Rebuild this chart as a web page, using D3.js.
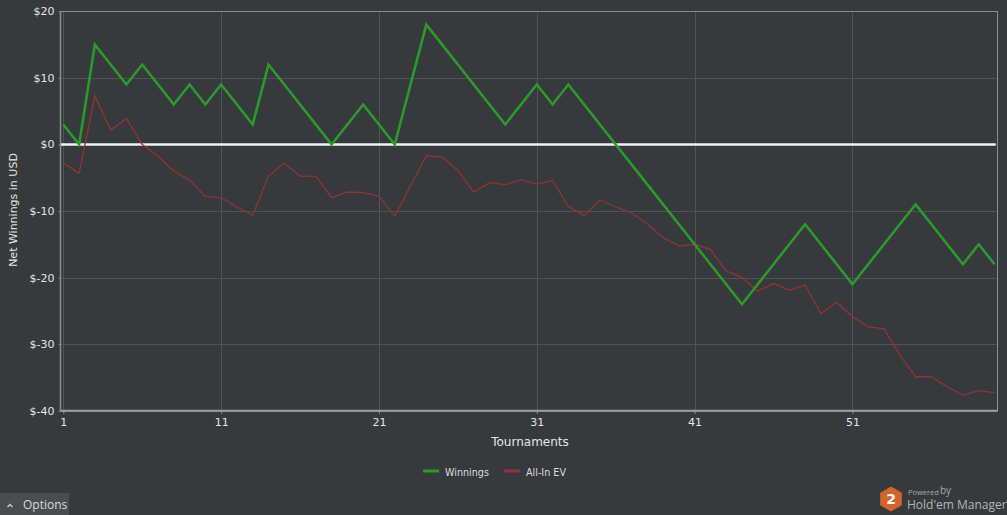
<!DOCTYPE html>
<html>
<head>
<meta charset="utf-8">
<script src="https://cdn.jsdelivr.net/npm/d3@7"></script>
<style>
html,body{margin:0;padding:0;background:#373a3d;overflow:hidden;}
svg{display:block;}
</style>
</head>
<body>
<svg id="chart" width="1007" height="515"></svg>
<script>
const tournaments = d3.range(1, 61);
const winnings = [3,0,15,12,9,12,9,6,9,6,9,6,3,12,9,6,3,0,3,6,3,0,9,18,15,12,9,6,3,6,9,6,9,6,3,0,-3,-6,-9,-12,-15,-18,-21,-24,-21,-18,-15,-12,-15,-18,-21,-18,-15,-12,-9,-12,-15,-18,-15,-18];
const allInEV = [-2.75,-4.35,7.25,2.15,3.9,0,-1.75,-4,-5.4,-7.8,-8,-9.4,-10.65,-4.75,-2.8,-4.75,-4.8,-8,-7.15,-7.25,-7.75,-10.8,-6.2,-1.7,-1.9,-3.9,-7.15,-5.75,-6.05,-5.3,-5.95,-5.45,-9.3,-10.7,-8.3,-9.4,-10.3,-11.9,-14,-15.25,-15,-15.8,-19,-20,-22,-20.9,-21.9,-21.15,-25.4,-23.7,-25.9,-27.4,-27.65,-31.65,-34.9,-34.9,-36.4,-37.7,-37,-37.3];
const xTicks = [1,11,21,31,41,51];
const yTicks = [20,10,0,-10,-20,-30,-40];
const seriesNames = ["Winnings","All-In EV"];
const seriesColors = ["#2b9a2b","#8e3434"];

(function(){
const svg = d3.select("#chart");
const bg = "#373a3d";
svg.append("rect").attr("width",1007).attr("height",515).attr("fill",bg);

const x = d3.scaleLinear().domain([1,60]).range([63.3,994.5]);
const y = d3.scaleLinear().domain([-40,20]).range([410.7,11.3]);
const pLeft = 60.5, pRight = 997.5, pTop = 11.3, pBottom = 410.7;

const g = svg.append("g");
g.selectAll(".hg").data(yTicks).join("line")
  .attr("x1",pLeft).attr("x2",pRight)
  .attr("y1",d=>Math.round(y(d))+0.5).attr("y2",d=>Math.round(y(d))+0.5)
  .attr("stroke","#505356").attr("stroke-width",1);
g.selectAll(".vg").data(xTicks).join("line")
  .attr("x1",d=>Math.round(x(d))+0.5).attr("x2",d=>Math.round(x(d))+0.5)
  .attr("y1",pTop).attr("y2",pBottom)
  .attr("stroke","#505356").attr("stroke-width",1);

svg.append("rect").attr("x",pLeft).attr("y",pTop+0.2).attr("width",pRight-pLeft).attr("height",pBottom-pTop)
  .attr("fill","none").attr("stroke","#8a8c8e").attr("stroke-width",1);
svg.append("line").attr("x1",pLeft).attr("x2",pRight).attr("y1",pBottom).attr("y2",pBottom)
  .attr("stroke","#9a9c9e").attr("stroke-width",2);
svg.append("line").attr("x1",pLeft).attr("x2",pLeft).attr("y1",pTop).attr("y2",pBottom)
  .attr("stroke","#8a8c8e").attr("stroke-width",1.5);

const yAxis = d3.axisLeft(y).tickValues(yTicks).tickSize(2).tickPadding(4)
  .tickFormat(d=> d<0 ? "$-"+Math.abs(d) : "$"+d);
const ya = svg.append("g").attr("transform",`translate(${pLeft},0)`).call(yAxis);
ya.select(".domain").remove();
ya.selectAll("line").attr("stroke","#8a8c8e");
ya.selectAll("text").attr("fill","#e4e4e4").style("font-family","DejaVu Sans, Verdana, sans-serif").style("font-size","11px");

const xAxis = d3.axisBottom(x).tickValues(xTicks).tickSize(3).tickPadding(5).tickFormat(d3.format("d"));
const xa = svg.append("g").attr("transform",`translate(0,${pBottom})`).call(xAxis);
xa.select(".domain").remove();
xa.selectAll("line").attr("stroke","#9a9c9e");
xa.selectAll("text").attr("fill","#e4e4e4").style("font-family","DejaVu Sans, Verdana, sans-serif").style("font-size","11px");

svg.append("line").attr("x1",pLeft+0.5).attr("x2",995.7).attr("y1",y(0)).attr("y2",y(0))
  .attr("stroke","#f2f2f2").attr("stroke-width",2.5);

const line = d3.line().x((d,i)=>x(tournaments[i])).y(d=>y(d));
svg.append("path").datum(allInEV).attr("d",line).attr("fill","none")
  .attr("stroke",seriesColors[1]).attr("stroke-width",1.3).attr("stroke-linejoin","miter");
svg.append("path").datum(winnings).attr("d",line).attr("fill","none")
  .attr("stroke",seriesColors[0]).attr("stroke-width",2.6).attr("stroke-linejoin","miter");

svg.append("text").attr("x",530).attr("y",446).attr("text-anchor","middle")
  .attr("fill","#e4e4e4").style("font-family","DejaVu Sans, Verdana, sans-serif").style("font-size","12px")
  .text("Tournaments");
svg.append("text").attr("transform","translate(17,210) rotate(-90)").attr("text-anchor","middle")
  .attr("fill","#e4e4e4").style("font-family","DejaVu Sans, Verdana, sans-serif").style("font-size","11px")
  .text("Net Winnings in USD");

const legX = [423,504];
seriesNames.forEach((n,i)=>{
  svg.append("line").attr("x1",legX[i]).attr("x2",legX[i]+16).attr("y1",471).attr("y2",471)
    .attr("stroke",seriesColors[i]).attr("stroke-width",3);
  svg.append("text").attr("x",legX[i]+22).attr("y",475.5).attr("fill","#dcdcdc")
    .style("font-family","DejaVu Sans, Verdana, sans-serif").style("font-size","9.6px").text(n);
});

svg.append("rect").attr("x",0).attr("y",493).attr("width",69).attr("height",22).attr("fill","#4a4d50");
svg.append("path").attr("d","M7.5,507 L10,504.5 L12.5,507").attr("fill","none").attr("stroke","#cfcfcf").attr("stroke-width",1.3);
svg.append("text").attr("x",23).attr("y",508.5).attr("fill","#d8d8d8")
  .style("font-family","Open Sans, sans-serif").style("font-size","12px").text("Options");

const cx=891, cy=499, r=12.5;
const hex = d3.range(6).map(k=>{const a=Math.PI/3*k+Math.PI/6;return [cx+r*Math.cos(a), cy+r*Math.sin(a)];});
svg.append("polygon").attr("points",hex.map(p=>p.join(",")).join(" ")).attr("fill","#d2652c");
svg.append("text").attr("x",cx).attr("y",cy+5).attr("text-anchor","middle").attr("fill","#ffffff")
  .style("font-family","DejaVu Sans, sans-serif").style("font-weight","bold").style("font-size","14px").text("2");
svg.append("text").attr("x",908).attr("y",494.5).attr("fill","#a8a8a8")
  .style("font-family","Open Sans, sans-serif").style("font-size","7.5px").text("Powered");
svg.append("text").attr("x",940).attr("y",494).attr("fill","#a8a8a8")
  .style("font-family","Open Sans, sans-serif").style("font-size","10px").text("by");
svg.append("text").attr("x",907).attr("y",509).attr("fill","#b4b4b4")
  .style("font-family","Open Sans, sans-serif").style("font-size","12px").text("Hold'em Manager");
})();
</script>
</body>
</html>
